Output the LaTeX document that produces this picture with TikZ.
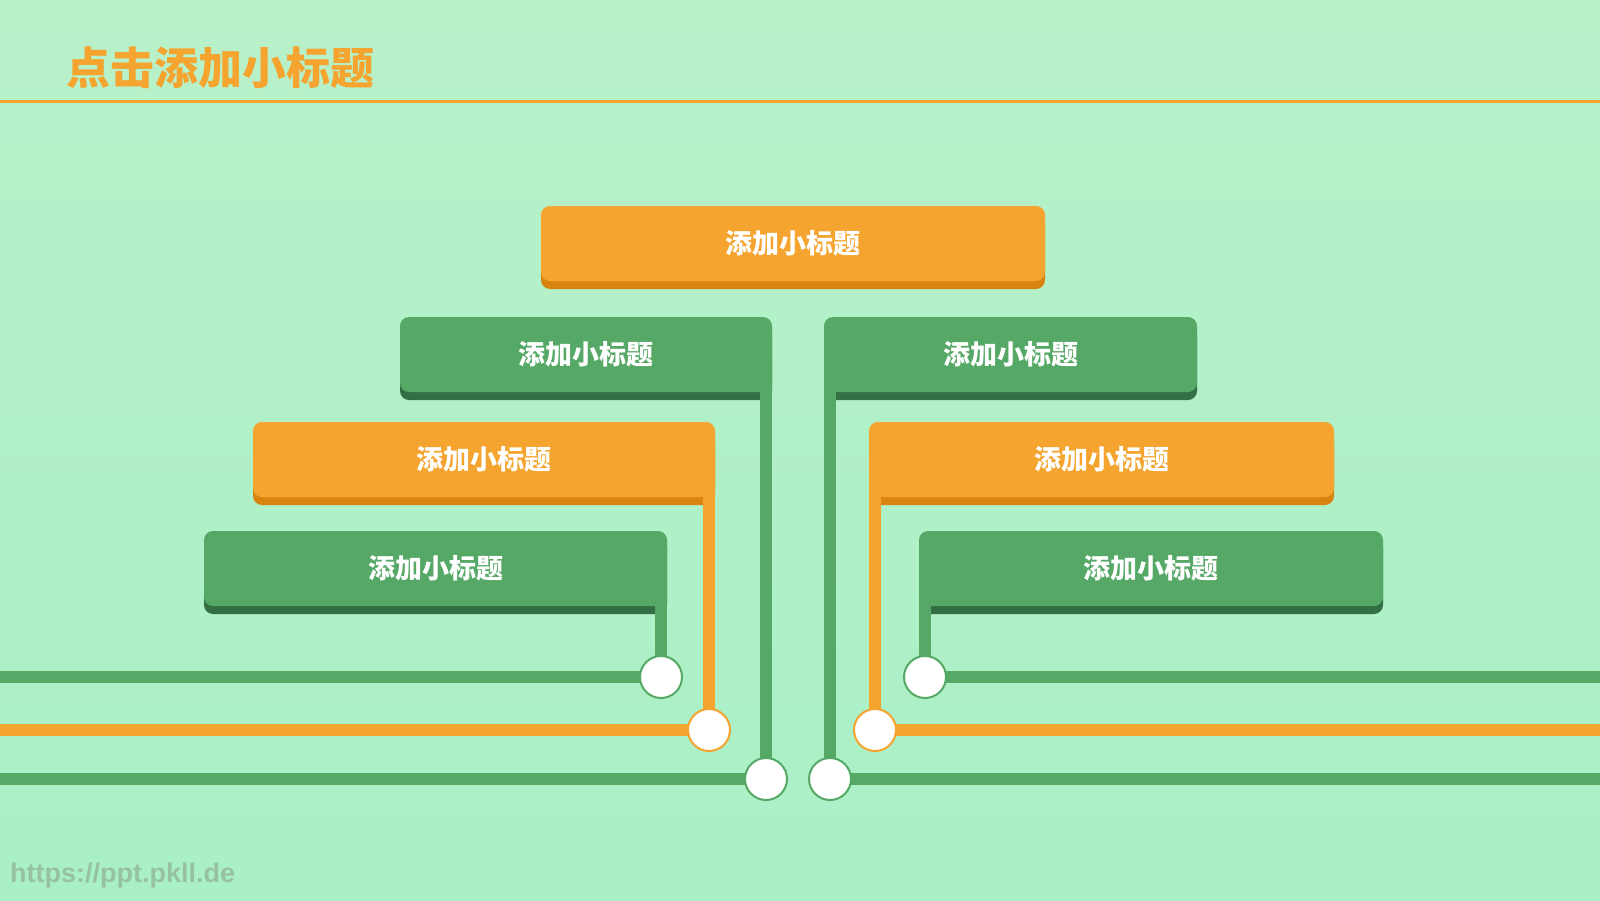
\documentclass[tikz,border=0pt]{standalone}
\usepackage{fontspec}
\usepackage{tikz}
\usetikzlibrary{shadows, positioning, calc}
\newfontfamily\cjk{Noto Sans CJK SC}
\setsansfont{Liberation Sans}
\definecolor{bgtop}{HTML}{B9F1C9}
\definecolor{bgbot}{HTML}{A9F0C6}
\definecolor{mainorange}{HTML}{F4A42F}
\definecolor{darkorange}{HTML}{D8840F}
\definecolor{maingreen}{HTML}{55A866}
\definecolor{darkgreen}{HTML}{336F43}
\definecolor{urlgreen}{HTML}{97C2A0}
\tikzset{
        tag/.style={rectangle, rounded corners=9pt, minimum height=75pt, inner sep=0pt, text=white, font=\cjk\bfseries\fontsize{27}{27}\selectfont},
        obox/.style={tag, fill=mainorange, general shadow={fill=darkorange, shadow yshift=-8pt}},
        gbox/.style={tag, fill=maingreen, general shadow={fill=darkgreen, shadow yshift=-8pt}},
        gline/.style={draw=maingreen, line width=12pt},
        oline/.style={draw=mainorange, line width=12pt},
        gdot/.style={circle, draw=maingreen, line width=2pt, fill=white, minimum size=42pt, inner sep=0pt, outer sep=0pt},
        odot/.style={gdot, draw=mainorange},
    }
\begin{document}
\begin{tikzpicture}[x=1pt, y=-1pt]
        % BACKGROUND
        \useasboundingbox (0,0) rectangle (1600,900);
        \shade[top color=bgtop, bottom color=bgbot] (0,0) rectangle (1600,900);

        % TITLE
        \node[anchor=west, inner sep=0pt, text=mainorange, font=\cjk\bfseries\fontsize{44}{44}\selectfont] (title) at (66,68) {点击添加小标题};
        \coordinate (ruleL) at (0,101);
        \coordinate (ruleR) at (1600,101);
        \draw[draw=mainorange, line width=3pt] (ruleL) -- (ruleR);

        % TAGS
        \node[obox, minimum width=504pt] (top) at (793,243.5) {添加小标题};
        \node[gbox, minimum width=372pt] (leftA) at (586,354.5) {添加小标题};
        \node[gbox, minimum width=373pt] (rightA) at (1010.5,354.5) {添加小标题};
        \node[obox, minimum width=462pt] (leftB) at (484,459.5) {添加小标题};
        \node[obox, minimum width=465pt] (rightB) at (1101.5,459.5) {添加小标题};
        \node[gbox, minimum width=463pt] (leftC) at (435.5,568.5) {添加小标题};
        \node[gbox, minimum width=464pt] (rightC) at (1151,568.5) {添加小标题};

        % DOTS
        \node[gdot] (dotLA) at (766,779) {};
        \node[gdot] (dotRA) at (830,779) {};
        \node[odot] (dotLB) at (709,730) {};
        \node[odot] (dotRB) at (875,730) {};
        \node[gdot] (dotLC) at (661,677) {};
        \node[gdot] (dotRC) at (925,677) {};

        % Line ends at the page edges
        \coordinate (edgeLA) at (0,779);
        \coordinate (edgeRA) at (1600,779);
        \coordinate (edgeLB) at (0,730);
        \coordinate (edgeRB) at (1600,730);
        \coordinate (edgeLC) at (0,677);
        \coordinate (edgeRC) at (1600,677);

        % Lines
        \draw[gline] (dotLA) -- (dotLA |- leftA.center);
        \draw[gline] (dotRA) -- (dotRA |- rightA.center);
        \draw[oline] (dotLB) -- (dotLB |- leftB.center);
        \draw[oline] (dotRB) -- (dotRB |- rightB.center);
        \draw[gline] (dotLC) -- (dotLC |- leftC.center);
        \draw[gline] (dotRC) -- (dotRC |- rightC.center);
        \draw[gline] (edgeLA) -- (dotLA);
        \draw[gline] (dotRA) -- (edgeRA);
        \draw[oline] (edgeLB) -- (dotLB);
        \draw[oline] (dotRB) -- (edgeRB);
        \draw[gline] (edgeLC) -- (dotLC);
        \draw[gline] (dotRC) -- (edgeRC);

        % URL
        \node[anchor=west, inner sep=0pt, text=urlgreen, font=\sffamily\bfseries\fontsize{27}{27}\selectfont] (url) at (10,876) {https://ppt.pkll.de};
    \end{tikzpicture}
\end{document}
